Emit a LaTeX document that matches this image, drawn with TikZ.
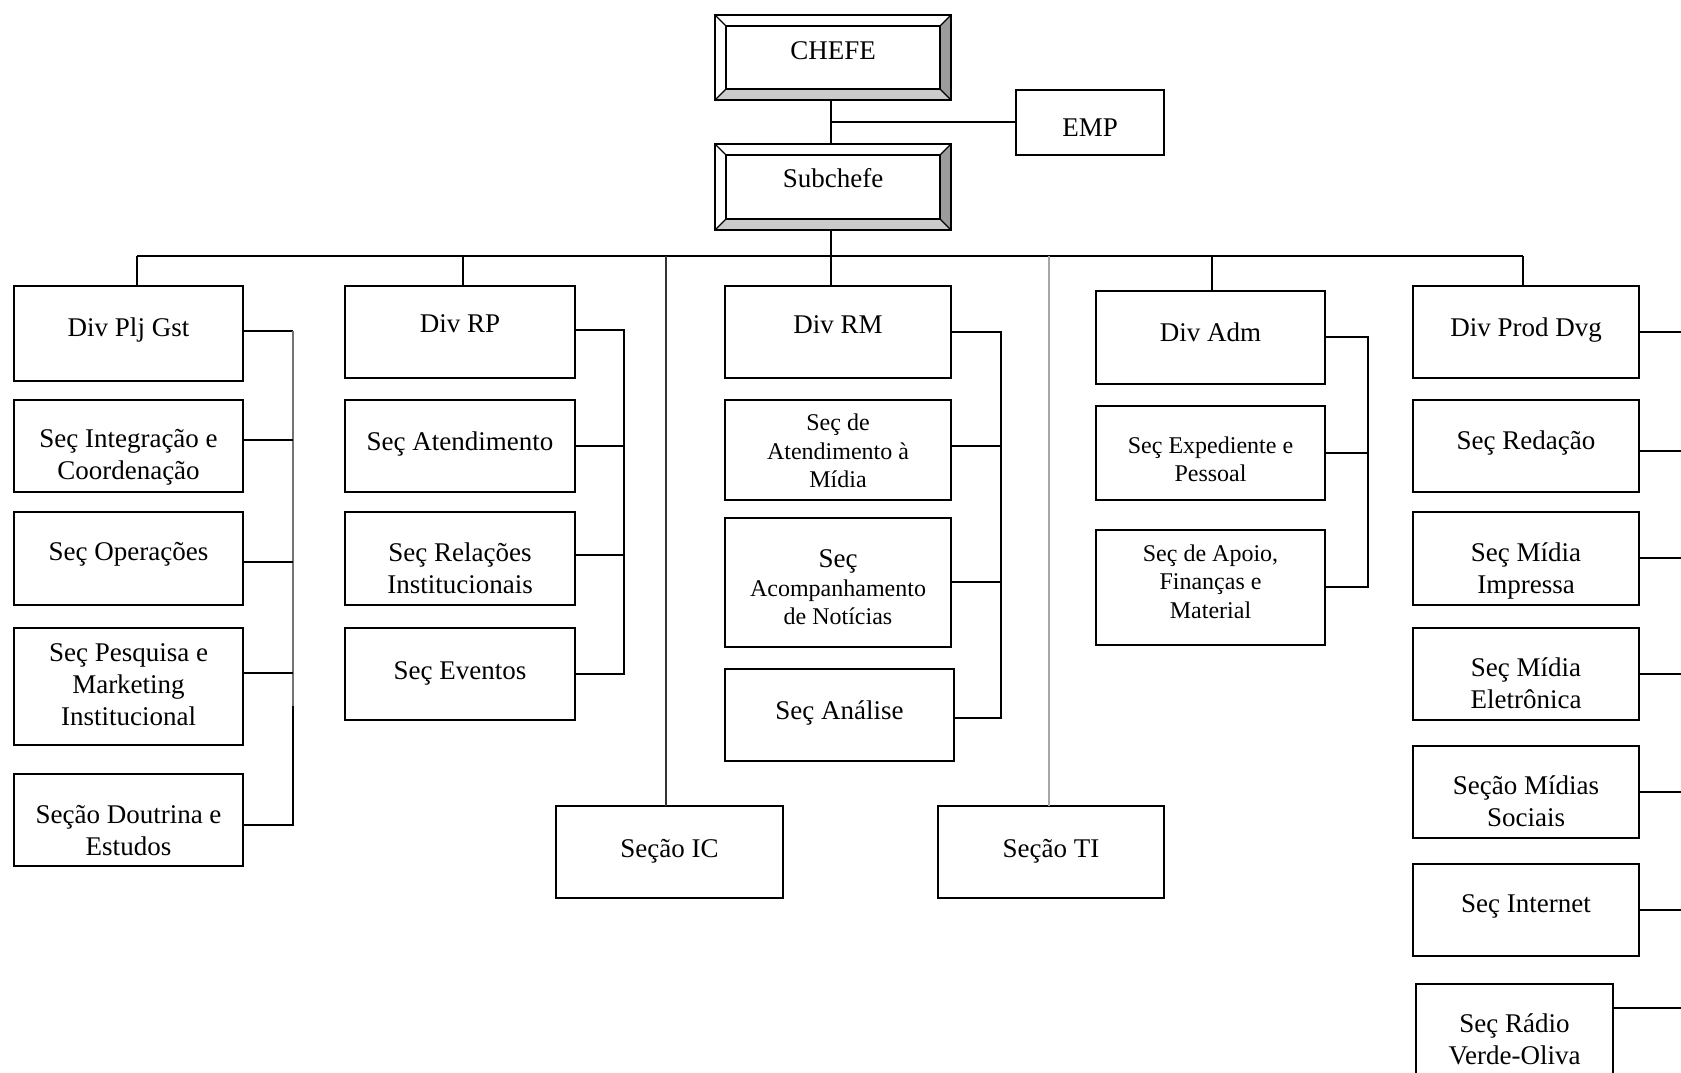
\documentclass[tikz,border=0pt]{standalone}
\usepackage{fontspec}
\setmainfont{Liberation Serif}
\usetikzlibrary{calc}
\definecolor{bevdark}{HTML}{9C9C9C}
\definecolor{bevlight}{HTML}{CBCBCB}
\newcommand{\bigtxt}{\fontsize{27}{32}\selectfont}
\newcommand{\smalltxt}{\fontsize{24}{28.5}\selectfont}
\tikzset{
% #1 = box height, #2 = distance from the top to the last baseline
tb/.code 2 args={\pgfmathsetmacro\tbh{#2-2}\pgfmathsetmacro\tbd{#1-#2-2}%
    \tikzset{minimum height=#1, text height=\tbh pt, text depth=\tbd pt}},
box/.style={draw, outer sep=0pt, inner sep=2pt, align=center, font=\bigtxt,
    minimum width=229, tb={92}{49}},
sbox/.style={box, font=\smalltxt}
}
\newcommand{\bevelframe}[1]{%
\fill[bevdark] (#1.north east) -- ($(#1.north east)+(-11,-11)$) -- ($(#1.south east)+(-11,11)$) -- (#1.south east) -- cycle;
\fill[bevlight] (#1.south west) -- ($(#1.south west)+(11,11)$) -- ($(#1.south east)+(-11,11)$) -- (#1.south east) -- cycle;
\draw ($(#1.south west)+(11,11)$) rectangle ($(#1.north east)+(-11,-11)$);
\draw[line width=1.2pt] (#1.north east) -- ++(-11,-11) (#1.north west) -- ++(11,-11)
    (#1.south west) -- ++(11,11) (#1.south east) -- ++(-11,11);
\draw (#1.south west) rectangle (#1.north east);
}

\begin{document}
\begin{tikzpicture}[x=1pt,y=1pt,line width=2pt]
\useasboundingbox (0,0) rectangle (1681,1073);

\node[box, minimum width=236, tb={85}{45}] (chefe) at (833,1015.5) {CHEFE};
\node[box, minimum width=236, tb={86}{43.5}] (sub) at (833,886) {Subchefe};
\node[box, minimum width=148, tb={65}{47}] (emp) at (1090,950.5) {EMP};

\node[box, tb={95}{50.5}] (dpg) at (128.5,739.5) {Div Plj Gst};
\node[box, tb={92}{80}] (sic) at (128.5,627) {Seç Integração e\\Coordenação};
\node[box, tb={93}{48.5}] (sop) at (128.5,514.5) {Seç Operações};
\node[box, tb={117}{97.5}] (spm) at (128.5,386.5) {Seç Pesquisa e\\Marketing\\Institucional};
\node[box, tb={92}{81.5}] (sde) at (128.5,253) {Seção Doutrina e\\Estudos};

\node[box, minimum width=230, tb={92}{46.5}] (drp) at (460,741) {Div RP};
\node[box, minimum width=230, tb={92}{50.5}] (sat) at (460,627) {Seç Atendimento};
\node[box, minimum width=230, tb={93}{81.5}] (sri) at (460,514.5) {Seç Relações\\Institucionais};
\node[box, minimum width=230, tb={92}{51.5}] (sev) at (460,399) {Seç Eventos};

\node[box, minimum width=226, tb={92}{47.5}] (drm) at (838,741) {Div RM};
\node[sbox, minimum width=226, tb={100}{88}] (sam) at (838,623) {Seç de\\Atendimento à\\Mídia};
\node[sbox, minimum width=226, tb={129}{107}] (san) at (838,490.5) {\bigtxt Seç\\Acompanhamento\\de Notícias};
\node[box, tb={92}{50.5}] (sal) at (839.5,358) {Seç Análise};

\node[box, minimum width=227, tb={92}{51.5}] (sic2) at (669.5,221) {Seção IC};
\node[box, minimum width=226, tb={92}{51.5}] (sti) at (1051,221) {Seção TI};

\node[box, tb={93}{51}] (dad) at (1210.5,735.5) {Div Adm};
\node[sbox, tb={94}{76}] (sep) at (1210.5,620) {Seç Expediente e\\Pessoal};
\node[sbox, tb={115}{88.5}] (saf) at (1210.5,485.5) {Seç de Apoio,\\Finanças e\\Material};

\node[box, minimum width=226, tb={92}{50.5}] (dpd) at (1526,741) {Div Prod Dvg};
\node[box, minimum width=226, tb={92}{50}] (sre) at (1526,627) {Seç Redação};
\node[box, minimum width=226, tb={93}{81.5}] (smi) at (1526,514.5) {Seç Mídia\\Impressa};
\node[box, minimum width=226, tb={92}{80.5}] (sme) at (1526,399) {Seç Mídia\\Eletrônica};
\node[box, minimum width=226, tb={92}{80.5}] (sms) at (1526,281) {Seção Mídias\\Sociais};
\node[box, minimum width=226, tb={92}{48.5}] (sin) at (1526,163) {Seç Internet};
\node[box, minimum width=197, tb={110}{80.5}] (srv) at (1514.5,34) {Seç Rádio\\Verde-Oliva};

\coordinate (bus) at (0,817);
\coordinate (d1) at (137,0);
\coordinate (d2) at (463,0);
\coordinate (d3) at (666,0);
\coordinate (d4) at (831,0);
\coordinate (d5) at (1049,0);
\coordinate (d6) at (1212,0);
\coordinate (d7) at (1523,0);
\coordinate (t1) at (293,0);
\coordinate (t2) at (624,0);
\coordinate (t3) at (1001,0);
\coordinate (t4) at (1368,0);
\coordinate (edge) at (1681,0);

\draw (chefe.south -| d4) -- (sub.north -| d4);
\draw (emp.west) -- (emp.west -| d4);
\draw (sub.south -| d4) -- (drm.north -| d4);
\draw (bus -| d1) -- (bus -| d7);
\draw (dpg.north -| d1) -- (bus -| d1);
\draw (drp.north -| d2) -- (bus -| d2);
\draw (dad.north -| d6) -- (bus -| d6);
\draw (dpd.north -| d7) -- (bus -| d7);
\draw[black!80] (sic2.north -| d3) -- (bus -| d3);
\draw[black!35] (sti.north -| d5) -- (bus -| d5);

% Div Plj Gst
\coordinate (pg1) at ([yshift=2]dpg.east);
\coordinate (pg5) at ([yshift=-5]sde.east);
\draw (pg1) -- (pg1 -| t1);
\draw[black!55] (pg1 -| t1) -- ([yshift=-20]spm.east -| t1);
\draw ([yshift=-20]spm.east -| t1) -- (pg5 -| t1) -- (pg5);
\draw ([yshift=6]sic.east) -- ([yshift=6]sic.east -| t1);
\draw ([yshift=-4]sop.east) -- ([yshift=-4]sop.east -| t1);
\draw ([yshift=13]spm.east) -- ([yshift=13]spm.east -| t1);
% Div RP
\draw ([yshift=2]drp.east) -- ([yshift=2]drp.east -| t2) -- (sev.east -| t2) -- (sev.east);
\draw (sat.east) -- (sat.east -| t2);
\draw ([yshift=3]sri.east) -- ([yshift=3]sri.east -| t2);
% Div RM
\draw (drm.east) -- (drm.east -| t3) -- ([yshift=-3]sal.east -| t3) -- ([yshift=-3]sal.east);
\draw ([yshift=4]sam.east) -- ([yshift=4]sam.east -| t3);
\draw (san.east) -- (san.east -| t3);
% Div Adm
\draw (dad.east) -- (dad.east -| t4) -- (saf.east -| t4) -- (saf.east);
\draw (sep.east) -- (sep.east -| t4);
% Div Prod Dvg
\foreach \n in {dpd,smi,sme,sms,sin}
    \draw (\n.east) -- (\n.east -| edge);
\draw ([yshift=-5]sre.east) -- ([yshift=-5]sre.east -| edge);
\draw ([yshift=31]srv.east) -- ([yshift=31]srv.east -| edge);

\bevelframe{chefe}
\bevelframe{sub}
\end{tikzpicture}
\end{document}
